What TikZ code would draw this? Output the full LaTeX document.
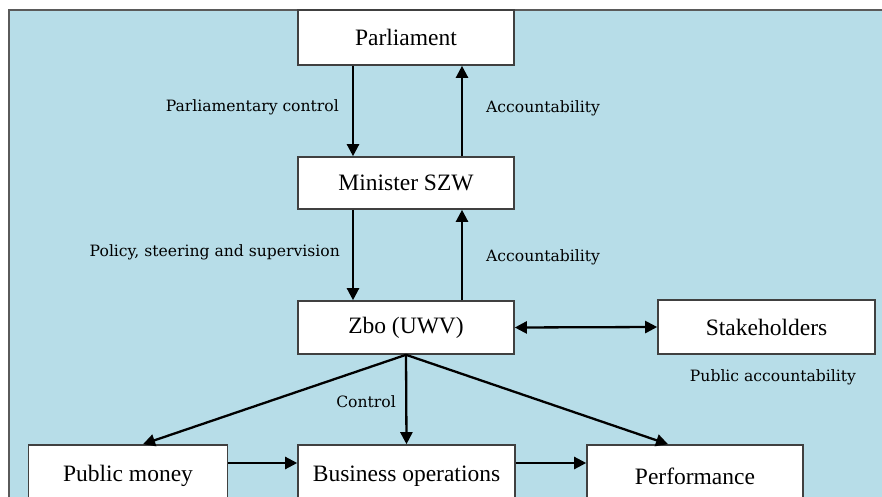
\documentclass[tikz,border=0pt]{standalone}
\usepackage{fontspec}
\setmainfont{Liberation Serif}
\newfontfamily\labelfont{DejaVu Serif}
\usetikzlibrary{arrows.meta}
\definecolor{bgblue}{RGB}{183,221,232}
\definecolor{framegray}{RGB}{90,90,90}
\definecolor{boxgray}{RGB}{64,64,64}
\tikzset{
  box/.style={draw=boxgray, line width=1.6pt, fill=white, minimum width=216pt, minimum height=54pt, inner sep=0pt, font=\fontsize{23.5}{26}\selectfont},
  arr/.style={line width=2.3pt, draw=black, -{Triangle[length=12pt,width=12pt]}},
  dbl/.style={line width=2.3pt, draw=black, {Triangle[length=12pt,width=12pt]}-{Triangle[length=12pt,width=12pt]}},
  lab/.style={inner sep=0pt, font=\labelfont\fontsize{15.6}{17}\selectfont}
}
\begin{document}
\begin{tikzpicture}[x=1pt,y=-1pt]
\useasboundingbox (0,0) rectangle (882,497);
\fill[white] (0,0) rectangle (882,497);
\fill[bgblue] (9,10) rectangle (882,497);
\draw[framegray, line width=2pt] (9,500) -- (9,10) -- (882,10);
\begin{scope}
\clip (0,0) rectangle (882,497);
\node[box, minimum height=55pt] (par) at (406,37.5) {Parliament};
\node[box, minimum height=52pt] (min) at (406,183) {Minister SZW};
\node[box, minimum height=53pt] (zbo) at (406,327.5) {Zbo (UWV)};
\node[box, minimum width=217pt] (stk) at (766.5,327) {Stakeholders};
\node[box, minimum width=199pt, minimum height=62pt] (pm) at (128,476) {Public money};
\node[box, minimum width=217pt, minimum height=62pt] (bo) at (406.5,476) {Business operations};
\node[box, minimum width=216pt, minimum height=62pt] (perf) at (695,476) {Performance};
\end{scope}
\draw[arr] ([xshift=-53pt]par.south) -- ([xshift=-53pt]min.north);
\draw[arr] ([xshift=56pt]min.north) -- ([xshift=56pt]par.south);
\draw[arr] ([xshift=-53pt]min.south) -- ([xshift=-53pt]zbo.north);
\draw[arr] ([xshift=56pt]zbo.north) -- ([xshift=56pt]min.south);
\draw[dbl] (zbo.east) -- (stk.west);
\draw[arr] (zbo.south) -- ([xshift=15pt]pm.north);
\draw[arr] (zbo.south) -- (bo.north);
\draw[arr] (zbo.south) -- ([xshift=-27pt]perf.north);
\draw[arr] ([yshift=13pt]pm.east) -- ([yshift=13pt]bo.west);
\draw[arr] ([yshift=13pt]bo.east) -- ([yshift=13pt]perf.west);
\node[lab, anchor=east] (l1) at (339,107) {Parliamentary control};
\node[lab, anchor=west] (l2) at (486,108) {Accountability};
\node[lab, anchor=east] (l3) at (340,252) {Policy, steering and supervision};
\node[lab, anchor=west] (l4) at (486,257) {Accountability};
\node[lab] (l5) at (366,402) {Control};
\node[lab] (l6) at (773,377) {Public accountability};
\end{tikzpicture}
\end{document}
